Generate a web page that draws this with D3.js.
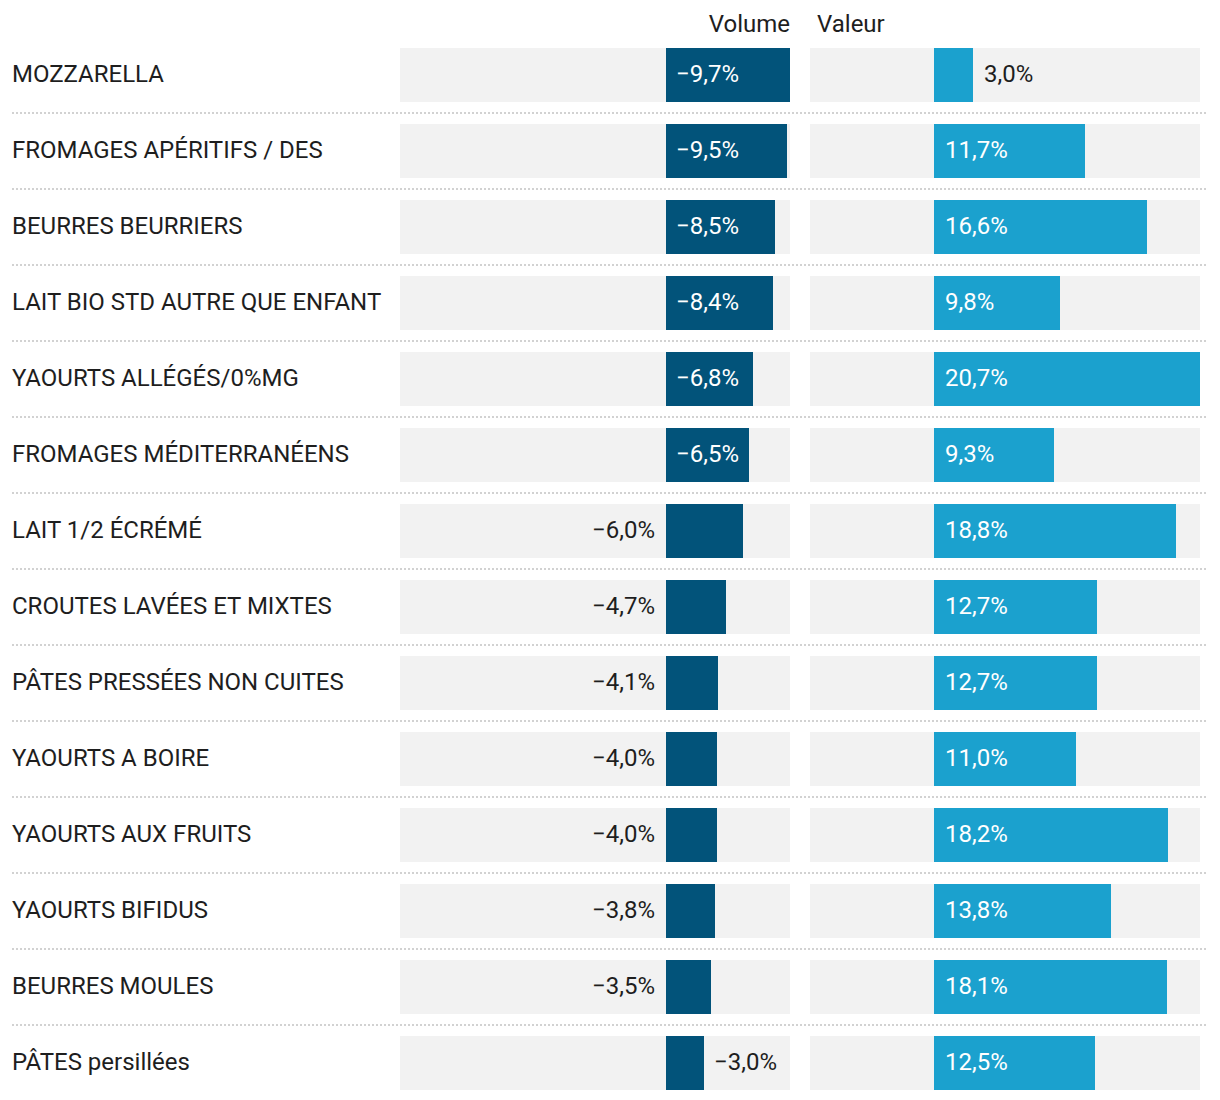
<!DOCTYPE html>
<html>
<head>
<meta charset="utf-8">
<script src="https://cdn.jsdelivr.net/npm/d3@7/dist/d3.min.js"></script>
<style>
  body { margin: 0; background: #fff; }
  svg { display: block; font-family: Roboto, "Noto Sans", sans-serif; }
</style>
</head>
<body>
<svg id="chart" width="1220" height="1100"></svg>
<script>
const categories = [
  "MOZZARELLA",
  "FROMAGES APÉRITIFS / DES",
  "BEURRES BEURRIERS",
  "LAIT BIO STD AUTRE QUE ENFANT",
  "YAOURTS ALLÉGÉS/0%MG",
  "FROMAGES MÉDITERRANÉENS",
  "LAIT 1/2 ÉCRÉMÉ",
  "CROUTES LAVÉES ET MIXTES",
  "PÂTES PRESSÉES NON CUITES",
  "YAOURTS A BOIRE",
  "YAOURTS AUX FRUITS",
  "YAOURTS BIFIDUS",
  "BEURRES MOULES",
  "PÂTES persillées"
];
const volume = [-9.7, -9.5, -8.5, -8.4, -6.8, -6.5, -6.0, -4.7, -4.1, -4.0, -4.0, -3.8, -3.5, -3.0];
const valeur = [3.0, 11.7, 16.6, 9.8, 20.7, 9.3, 18.8, 12.7, 12.7, 11.0, 18.2, 13.8, 18.1, 12.5];
const headers = ["Volume", "Valeur"];

const svg = d3.select("#chart");
const fontSize = 24;
const darkBlue = "#02537a";
const lightBlue = "#1ba1ce";
const bg = "#f2f2f2";
const textColor = "#1e1e1e";

const fmt = v => (v < 0 ? "\u2212" : "") + Math.abs(v).toFixed(1).replace(".", ",") + "%";

const y = d3.scaleBand().domain(categories).range([48, 1090]).paddingInner(22 / 76).paddingOuter(0).round(true);

const panelW = 390;
const volLeft = 400, valLeft = 810;
const allMin = d3.min(volume), allMax = d3.max(valeur);
const k = d3.scaleLinear().domain([0, allMax - allMin]).range([0, panelW]);
const xVal = d3.scaleLinear().domain([allMin, allMax]).range([valLeft, valLeft + panelW]).interpolate(d3.interpolateRound);
const volZero = Math.round(volLeft + panelW - k(-allMin));
const xVol = d3.scaleLinear().domain([0, allMin]).range([volZero, volLeft + panelW]).interpolate(d3.interpolateRound);

const dy = "0.29em";

// header
svg.append("text").attr("x", volLeft + panelW).attr("y", 32).attr("text-anchor", "end")
  .attr("font-size", fontSize).attr("fill", textColor).text(headers[0]);
svg.append("text").attr("x", valLeft + 7).attr("y", 32).attr("text-anchor", "start")
  .attr("font-size", fontSize).attr("fill", textColor).text(headers[1]);

const rows = svg.selectAll("g.row").data(categories.map((c, i) => ({c, i, vol: volume[i], val: valeur[i]})))
  .join("g").attr("class", "row").attr("transform", d => `translate(0,${y(d.c)})`);

const bh = y.bandwidth();

// separators
rows.filter(d => d.i < categories.length - 1).append("line")
  .attr("x1", 12).attr("x2", 1208).attr("y1", bh + 11).attr("y2", bh + 11)
  .attr("stroke", "#d2d2d2").attr("stroke-width", 2).attr("stroke-dasharray", "2,2");

// labels
rows.append("text").attr("x", 12).attr("y", bh / 2).attr("dy", dy)
  .attr("font-size", fontSize).attr("fill", textColor).text(d => d.c);

// backgrounds
rows.append("rect").attr("x", volLeft).attr("width", panelW).attr("height", bh).attr("fill", bg);
rows.append("rect").attr("x", valLeft).attr("width", panelW).attr("height", bh).attr("fill", bg);

// volume bars
rows.append("rect").attr("x", xVol(0)).attr("width", d => xVol(d.vol) - xVol(0))
  .attr("height", bh).attr("fill", darkBlue);
// value bars
rows.append("rect").attr("x", xVal(0)).attr("width", d => xVal(d.val) - xVal(0))
  .attr("height", bh).attr("fill", lightBlue);

// volume labels
rows.append("text").attr("y", bh / 2).attr("dy", dy).attr("font-size", fontSize)
  .each(function(d) {
    const w = xVol(d.vol) - xVol(0);
    const t = d3.select(this).text(fmt(d.vol));
    if (w >= 80) t.attr("x", xVol(0) + 10).attr("text-anchor", "start").attr("fill", "#fff");
    else if (w < 40) t.attr("x", xVol(d.vol) + 10).attr("text-anchor", "start").attr("fill", textColor);
    else t.attr("x", xVol(0) - 11).attr("text-anchor", "end").attr("fill", textColor);
  });

// value labels
rows.append("text").attr("y", bh / 2).attr("dy", dy).attr("font-size", fontSize)
  .each(function(d) {
    const w = xVal(d.val) - xVal(0);
    const t = d3.select(this).text(fmt(d.val));
    if (w >= 80) t.attr("x", xVal(0) + 11).attr("text-anchor", "start").attr("fill", "#fff");
    else t.attr("x", xVal(d.val) + 11).attr("text-anchor", "start").attr("fill", textColor);
  });
</script>
</body>
</html>
